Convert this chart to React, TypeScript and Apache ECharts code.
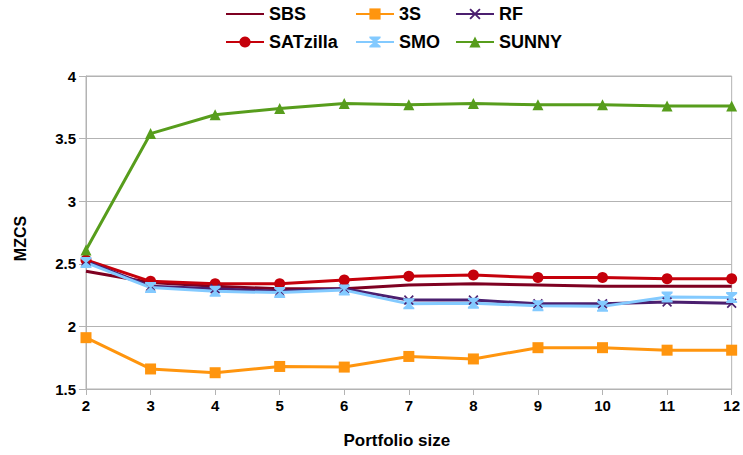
import React, { useEffect, useRef } from "react";
import * as echarts from "echarts";

const portfolioSizes = [2, 3, 4, 5, 6, 7, 8, 9, 10, 11, 12];
const sbs = [2.44, 2.35, 2.32, 2.3, 2.3, 2.33, 2.34, 2.33, 2.32, 2.32, 2.32];
const satzilla = [2.53, 2.36, 2.34, 2.34, 2.37, 2.4, 2.41, 2.39, 2.39, 2.38, 2.38];
const threeS = [1.91, 1.66, 1.63, 1.68, 1.675, 1.76, 1.74, 1.83, 1.83, 1.81, 1.81];
const rf = [2.52, 2.32, 2.3, 2.28, 2.3, 2.21, 2.21, 2.18, 2.18, 2.195, 2.185];
const smo = [2.51, 2.31, 2.28, 2.27, 2.29, 2.18, 2.185, 2.165, 2.16, 2.235, 2.23];
const sunny = [2.61, 3.54, 3.69, 3.74, 3.78, 3.77, 3.78, 3.77, 3.77, 3.76, 3.76];

const FONT = "'Liberation Sans', Arial, sans-serif";
const X_SYMBOL =
  "path://M0,1.2 L1.2,0 L5,3.8 L8.8,0 L10,1.2 L6.2,5 L10,8.8 L8.8,10 L5,6.2 L1.2,10 L0,8.8 L3.8,5 Z";
const HOURGLASS = "path://M0,0 L10,0 L10,1.5 L5.8,5 L10,8.5 L10,10 L0,10 L0,8.5 L4.2,5 L0,1.5 Z";

export default function App() {
  const ref = useRef<HTMLDivElement>(null);
  useEffect(() => {
    if (!ref.current) return;
    const chart = echarts.init(ref.current, null, { renderer: "svg" });
    const pairs = (vals: number[]) => portfolioSizes.map((x, i) => [x, vals[i]]);
    const mk = (name: string, vals: number[], color: string, symbol: string, size: number) => ({
      name,
      type: "line",
      data: pairs(vals),
      symbol,
      symbolSize: size,
      showSymbol: symbol !== "none",
      lineStyle: { color, width: 3 },
      itemStyle: { color },
      emphasis: { disabled: true },
    });
    const legendBase = {
      orient: "vertical",
      top: 5,
      padding: 0,
      itemWidth: 38,
      itemHeight: 14,
      itemGap: 10,
      textStyle: { fontFamily: FONT, fontSize: 18, fontWeight: "bold", color: "#000" },
      selectedMode: false,
    };
    chart.setOption({
      animation: false,
      backgroundColor: "#fff",
      legend: [
        { ...legendBase, left: 225, data: [{ name: "SBS", itemStyle: { opacity: 0 } }, "SATzilla"] },
        { ...legendBase, left: 355, data: ["3S", "SMO"] },
        { ...legendBase, left: 455, data: ["RF", "SUNNY"] },
      ],
      grid: {
        left: 86,
        right: 4,
        top: 76,
        bottom: 66,
        show: true,
        borderColor: "#b3b3b3",
        borderWidth: 1,
      },
      xAxis: {
        type: "value",
        min: 2,
        max: 12,
        interval: 1,
        name: "Portfolio size",
        nameLocation: "middle",
        nameGap: 43,
        nameTextStyle: { fontFamily: FONT, fontSize: 17, fontWeight: "bold", color: "#000", padding: [0, 24, 0, 0] },
        axisLine: { lineStyle: { color: "#b3b3b3", width: 1 } },
        axisTick: { show: true, length: 6, lineStyle: { color: "#b3b3b3" } },
        axisLabel: { fontFamily: FONT, fontSize: 15, fontWeight: "bold", color: "#000", margin: 9, showMaxLabel: true },
        splitLine: { show: false },
      },
      yAxis: {
        type: "value",
        min: 1.5,
        max: 4,
        interval: 0.5,
        name: "MZCS",
        nameLocation: "middle",
        nameGap: 58,
        nameRotate: 90,
        nameTextStyle: { fontFamily: FONT, fontSize: 16, fontWeight: "bold", color: "#000", padding: [0, 12, 0, 0] },
        axisLine: { show: true, lineStyle: { color: "#b3b3b3", width: 1 } },
        axisTick: { show: true, length: 7, lineStyle: { color: "#b3b3b3" } },
        axisLabel: { fontFamily: FONT, fontSize: 15, fontWeight: "bold", color: "#000", margin: 10 },
        splitLine: { show: true, lineStyle: { color: "#b3b3b3", width: 1 } },
      },
      series: [
        mk("SBS", sbs, "#7e0021", "none", 0),
        mk("SATzilla", satzilla, "#c5000b", "circle", 11),
        mk("3S", threeS, "#ff950e", "rect", 11),
        mk("RF", rf, "#4b1f6f", X_SYMBOL, 10),
        mk("SMO", smo, "#83caff", HOURGLASS, 11),
        mk("SUNNY", sunny, "#579d1c", "triangle", 11),
      ],
    });
    return () => chart.dispose();
  }, []);
  return <div ref={ref} style={{ position: "fixed", left: 0, top: 0, width: 743, height: 455 }} />;
}
